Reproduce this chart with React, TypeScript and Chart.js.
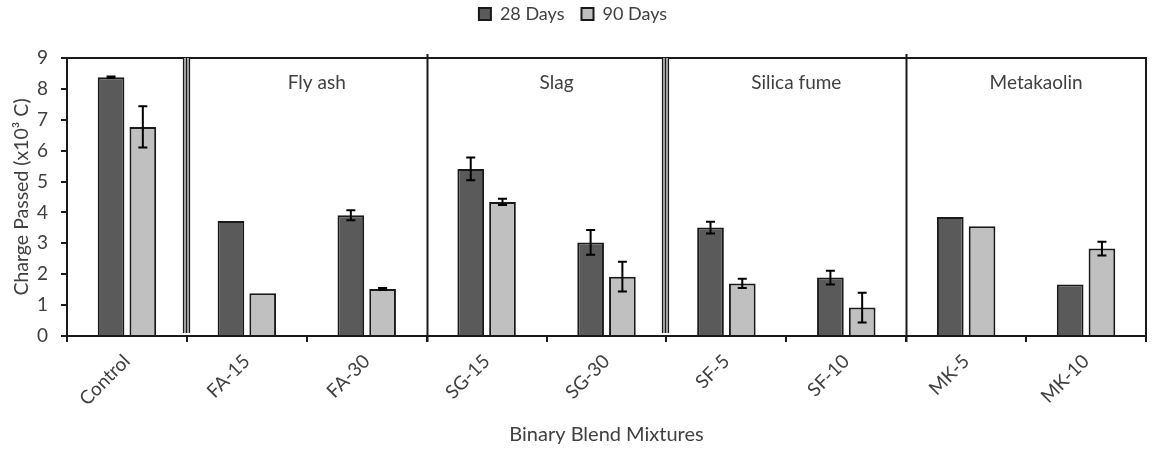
import React, { useEffect, useRef } from "react";
import { Chart, registerables } from "chart.js";

Chart.register(...registerables);

const categories = ["Control", "FA-15", "FA-30", "SG-15", "SG-30", "SF-5", "SF-10", "MK-5", "MK-10"];
const days28 = [8.38, 3.72, 3.91, 5.41, 3.03, 3.51, 1.89, 3.85, 1.67];
const days28Err = [0.02, 0, 0.16, 0.37, 0.4, 0.19, 0.22, 0, 0];
const days90 = [6.77, 1.38, 1.52, 4.34, 1.92, 1.7, 0.92, 3.55, 2.83];
const days90Err = [0.67, 0, 0.03, 0.1, 0.48, 0.15, 0.48, 0, 0.22];

const groupNames = ["Fly ash", "Slag", "Silica fume", "Metakaolin"];
const groupStarts = [1, 3, 5, 7];
const groupSize = 2;
const doubleSeparators = [1, 5];
const singleSeparators = [3, 7];

const FONT = "Lato, 'Open Sans', sans-serif";
const TEXT = "#404040";
const LINE = "#1a1a1a";

const errorBarPlugin = {
  id: "errorBars",
  afterDatasetsDraw(chart: any) {
    const ctx = chart.ctx;
    const y = chart.scales.y;
    const errs = [days28Err, days90Err];
    chart.data.datasets.forEach((ds: any, di: number) => {
      const meta = chart.getDatasetMeta(di);
      meta.data.forEach((bar: any, i: number) => {
        const e = errs[di][i];
        if (!e) return;
        const v = ds.data[i];
        const top = y.getPixelForValue(v + e);
        const bot = y.getPixelForValue(v - e);
        const x = bar.x;
        ctx.save();
        ctx.strokeStyle = "#000";
        ctx.lineWidth = 2;
        ctx.beginPath();
        ctx.moveTo(x, top);
        ctx.lineTo(x, bot);
        ctx.moveTo(x - 4.5, top);
        ctx.lineTo(x + 4.5, top);
        ctx.moveTo(x - 4.5, bot);
        ctx.lineTo(x + 4.5, bot);
        ctx.stroke();
        ctx.restore();
      });
    });
  },
};

const framePlugin = {
  id: "frame",
  afterDraw(chart: any) {
    const ctx = chart.ctx;
    const { left, right, top, bottom } = chart.chartArea;
    const xs = chart.scales.x;
    const boundary = (i: number) => (xs.getPixelForValue(i - 1) + xs.getPixelForValue(i)) / 2;
    ctx.save();
    ctx.strokeStyle = LINE;
    ctx.lineWidth = 2;
    ctx.beginPath();
    ctx.moveTo(left, top);
    ctx.lineTo(right, top);
    ctx.lineTo(right, bottom);
    ctx.stroke();

    singleSeparators.forEach((i) => {
      const x = Math.round(boundary(i)) + 0.5;
      ctx.lineWidth = 2;
      ctx.beginPath();
      ctx.moveTo(x, top - 4);
      ctx.lineTo(x, bottom + 6);
      ctx.stroke();
    });

    doubleSeparators.forEach((i) => {
      const x = Math.round(boundary(i));
      ctx.fillStyle = "#b0b0b0";
      ctx.fillRect(x - 4, top, 7, bottom - top - 3);
      ctx.lineWidth = 1.2;
      [x - 3.5, x - 0.5, x + 2.5].forEach((lx) => {
        ctx.beginPath();
        ctx.moveTo(lx, top);
        ctx.lineTo(lx, bottom - 3);
        ctx.stroke();
      });
    });

    ctx.fillStyle = TEXT;
    ctx.font = `19px ${FONT}`;
    ctx.textAlign = "center";
    ctx.textBaseline = "middle";
    groupNames.forEach((name, g) => {
      const s = groupStarts[g];
      const cx = (boundary(s) + boundary(s + groupSize)) / 2 + 10;
      ctx.fillText(name, cx, top + 25);
    });
    ctx.restore();
  },
};

export default function App() {
  const ref = useRef<HTMLCanvasElement>(null);
  useEffect(() => {
    const canvas = ref.current;
    if (!canvas) return;
    const chart = new Chart(canvas, {
      type: "bar",
      data: {
        labels: categories,
        datasets: [
          {
            label: "28 Days",
            data: days28,
            backgroundColor: "#5a5a5a",
            borderColor: LINE,
            borderWidth: 2,
            categoryPercentage: 0.53,
            barPercentage: 0.84,
          },
          {
            label: "90 Days",
            data: days90,
            backgroundColor: "#c0c0c0",
            borderColor: LINE,
            borderWidth: 2,
            categoryPercentage: 0.53,
            barPercentage: 0.84,
          },
        ],
      },
      options: {
        responsive: false,
        animation: false,
        layout: { padding: { left: 0, right: 6, top: -12, bottom: 2 } },
        plugins: {
          legend: {
            position: "top",
            labels: {
              boxWidth: 12,
              boxHeight: 12,
              color: TEXT,
              font: { family: FONT, size: 18 },
              padding: 17,
            },
          },
          subtitle: {
            display: true,
            text: "",
            weight: 500,
            font: { size: 10 },
            padding: { top: 0, bottom: 13 },
          },
          tooltip: { enabled: false },
        },
        scales: {
          x: {
            afterFit(scale: any) {
              scale.height = 111;
            },
            grid: { display: true, drawOnChartArea: false, drawTicks: true, tickLength: 6, color: LINE, lineWidth: 2 },
            border: { color: LINE, width: 2 },
            ticks: {
              color: TEXT,
              font: { family: FONT, size: 19 },
              maxRotation: 45,
              minRotation: 45,
              padding: 8,
            },
            title: {
              display: true,
              text: "Binary Blend Mixtures",
              color: TEXT,
              font: { family: FONT, size: 20 },
              padding: { top: 0, bottom: 0 },
            },
          },
          y: {
            min: 0,
            max: 9,
            afterFit(scale: any) {
              scale.width = 67;
            },
            grid: { display: true, drawOnChartArea: false, drawTicks: true, tickLength: 6, color: LINE, lineWidth: 2 },
            border: { color: LINE, width: 2 },
            ticks: {
              stepSize: 1,
              color: TEXT,
              font: { family: FONT, size: 19 },
              padding: 13,
            },
            title: {
              display: true,
              text: "Charge Passed (x10³ C)",
              color: TEXT,
              font: { family: FONT, size: 19.5 },
              padding: { top: 10, bottom: 2 },
            },
          },
        },
      },
      plugins: [errorBarPlugin, framePlugin],
    } as any);
    return () => chart.destroy();
  }, []);
  return (
    <div style={{ position: "fixed", left: 0, top: 0, width: 1152, height: 449, background: "#fff" }}>
      <canvas ref={ref} width={1152} height={449} />
    </div>
  );
}
